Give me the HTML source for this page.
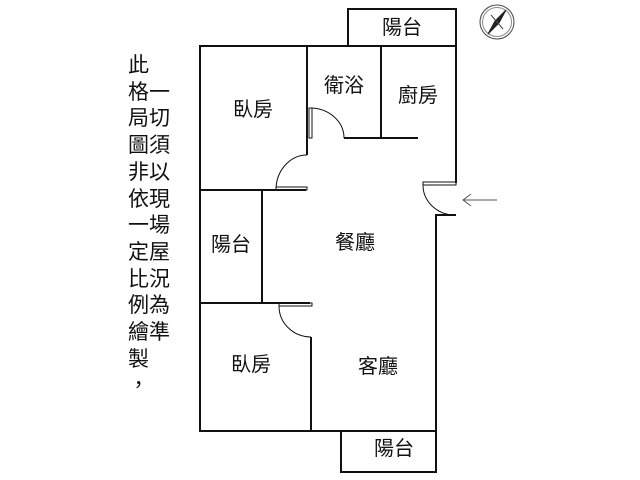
<!DOCTYPE html>
<html><head><meta charset="utf-8"><style>
body{margin:0;width:640px;height:480px;background:#fff;overflow:hidden;position:relative;font-family:"Liberation Sans","Noto Sans CJK TC",sans-serif;}
.t{position:absolute;font-size:20px;line-height:20px;color:#111;white-space:nowrap;transform:translate(-50%,-50%);}
#v{position:absolute;left:128px;top:53px;font-size:21px;line-height:26.7px;color:#111;letter-spacing:0;}
svg{position:absolute;left:0;top:0}
</style></head><body>
<svg width="640" height="480" viewBox="0 0 640 480" fill="none" stroke="#111" stroke-width="2">
<rect x="348" y="9" width="108" height="37"/>
<polyline points="307,46 200,46 200,431 436,431 436,215 456,215"/>
<line x1="307" y1="46" x2="456" y2="46"/>
<line x1="456" y1="46" x2="456" y2="183"/>
<line x1="307" y1="46" x2="307" y2="155"/>
<line x1="200" y1="190" x2="306" y2="190"/>
<line x1="381" y1="46" x2="381" y2="138"/>
<line x1="344" y1="138" x2="418" y2="138"/>
<line x1="262" y1="190" x2="262" y2="303"/>
<line x1="200" y1="303" x2="310" y2="303"/>
<line x1="311" y1="337" x2="311" y2="431"/>
<rect x="341" y="431" width="95" height="41"/>
<g stroke-width="1">
<path d="M307,155 A31,35 0 0 0 276,190"/>
<rect x="276" y="187" width="31" height="3"/>
<path d="M310,108 A34,30 0 0 1 344,138"/>
<rect x="309" y="108" width="3" height="30"/>
<rect x="423" y="182" width="33" height="3"/>
<path d="M423,185 A32,30 0 0 0 455,215"/>
<rect x="279" y="303" width="33" height="3"/>
<path d="M279,306 A32,31 0 0 0 311,337"/>
<line x1="463" y1="200" x2="497" y2="200" stroke="#555"/>
<polyline points="471,194 463,200 471,206" stroke="#555"/>
<circle cx="497" cy="22" r="17" stroke="#444"/>
<circle cx="497" cy="22" r="14.5" stroke="#888"/>
<path d="M506,10 L499,23 L488,34 L495,21 Z" fill="#222" stroke="#222"/>
<line x1="491" y1="15" x2="503" y2="29" stroke="#444"/>
</g>
</svg>
<div class="t" style="left:402px;top:28px">陽台</div>
<div class="t" style="left:253px;top:110px">臥房</div>
<div class="t" style="left:344px;top:86px">衛浴</div>
<div class="t" style="left:418px;top:96px">廚房</div>
<div class="t" style="left:231px;top:245px">陽台</div>
<div class="t" style="left:355px;top:243px">餐廳</div>
<div class="t" style="left:251px;top:365px">臥房</div>
<div class="t" style="left:378px;top:367px">客廳</div>
<div class="t" style="left:394px;top:449px">陽台</div>
<div id="v">此<br>格一<br>局切<br>圖須<br>非以<br>依現<br>一場<br>定屋<br>比況<br>例為<br>繪準<br>製<br>，</div>
</body></html>
